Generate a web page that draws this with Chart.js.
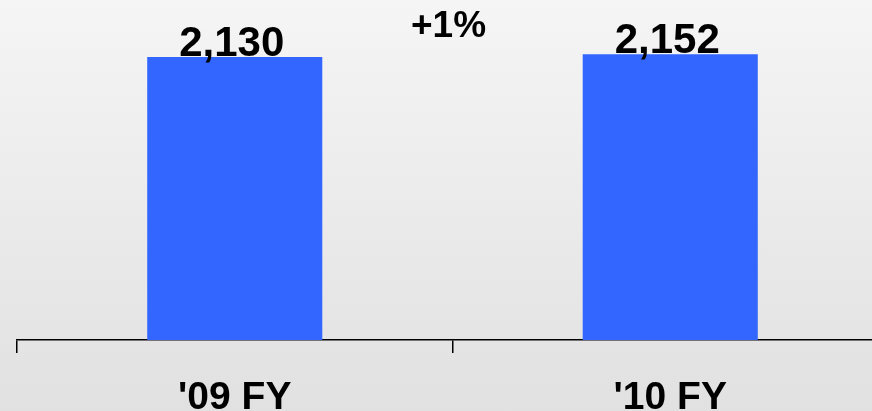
<!DOCTYPE html>
<html>
<head>
<meta charset="utf-8">
<script src="https://cdn.jsdelivr.net/npm/chart.js@4/dist/chart.umd.min.js"></script>
<style>
  html, body { margin: 0; padding: 0; overflow: hidden; width: 872px; height: 411px;
    background: linear-gradient(to bottom, #f5f5f5 0%, #ececec 45%, #e1e1e1 100%); }
  #wrap { position: absolute; left: 0; top: 0; width: 888px; height: 430px; }
</style>
</head>
<body>
<div id="wrap"><canvas id="c" width="888" height="430"></canvas></div>
<script>
const categories = ["'09 FY", "'10 FY"];
const values = [2130, 2152];
const valueLabels = ["2,130", "2,152"];
const changeLabel = "+1%";

const FONT = "'Liberation Sans', Arial, sans-serif";

const labelPlugin = {
  id: 'labels',
  afterDatasetsDraw(chart) {
    const ctx = chart.ctx;
    const meta = chart.getDatasetMeta(0);
    ctx.save();
    ctx.fillStyle = '#000';
    ctx.textAlign = 'center';
    ctx.textBaseline = 'alphabetic';
    ctx.font = "bold 42px " + FONT;
    meta.data.forEach((bar, i) => {
      ctx.fillText(valueLabels[i], bar.x - 3, bar.y - 1);
    });
    const xs = chart.scales.x;
    const mid = (xs.getPixelForValue(0) + xs.getPixelForValue(1)) / 2;
    ctx.font = "bold 37px " + FONT;
    ctx.fillText(changeLabel, mid - 4, 37);
    ctx.restore();
  }
};

new Chart(document.getElementById('c'), {
  type: 'bar',
  data: {
    labels: categories,
    datasets: [{
      data: values,
      backgroundColor: '#3366FF',
      borderWidth: 0,
      barPercentage: 0.402,
      categoryPercentage: 1.0
    }]
  },
  options: {
    responsive: false,
    animation: false,
    events: [],
    layout: { padding: { left: 17, right: 0, top: 0, bottom: 0 } },
    plugins: { legend: { display: false }, tooltip: { enabled: false } },
    scales: {
      y: { display: false, min: 0, max: 2560 },
      x: {
        offset: true,
        grid: { display: true, drawOnChartArea: false, drawTicks: true, tickLength: 13,
                color: '#000', lineWidth: 1.5, offset: true },
        border: { display: true, color: '#000', width: 1.5 },
        ticks: { color: '#000', padding: 22, font: { family: FONT, size: 39, weight: 'bold' } },
        afterFit(scale) { scale.height = 90; }
      }
    }
  },
  plugins: [labelPlugin]
});
</script>
</body>
</html>
